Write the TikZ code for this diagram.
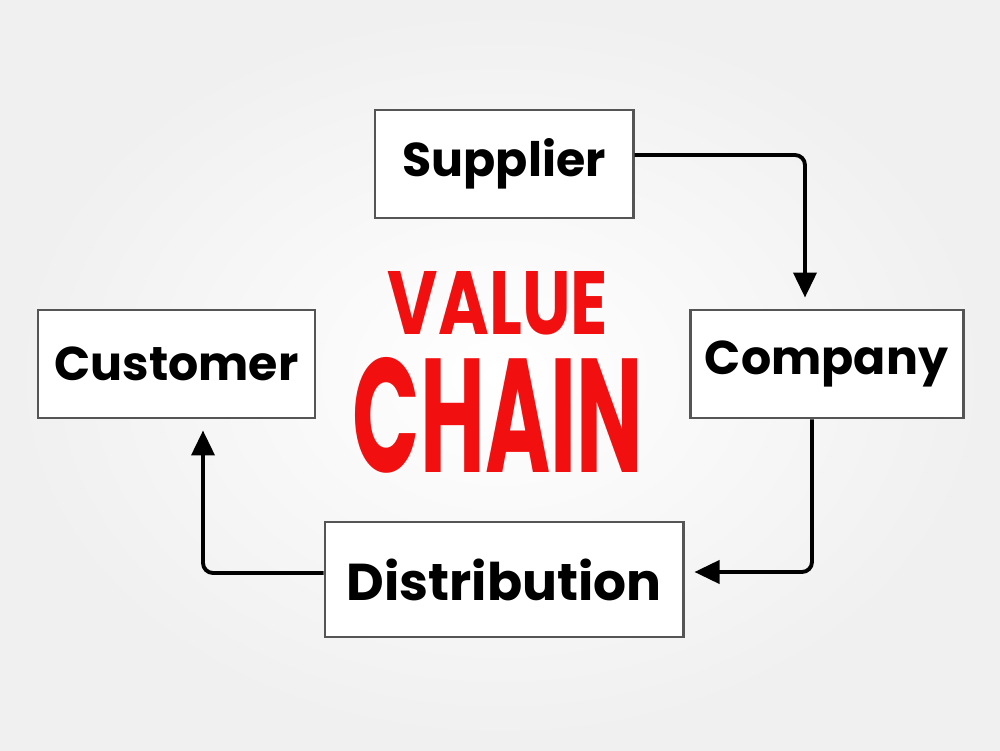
\documentclass[tikz,border=0pt]{standalone}
\usepackage{fontspec}
\setmainfont{Poppins}
\usetikzlibrary{arrows.meta,positioning}

\definecolor{boxline}{HTML}{555555}
\definecolor{valred}{HTML}{F20F0F}

\tikzset{
  box/.style={draw=boxline, line width=1.7pt, fill=white, minimum height=2.16cm,
    inner sep=0pt, font=\fontsize{27}{32}\selectfont\bfseries},
  flow/.style={line width=2.2pt, rounded corners=0.2cm,
    -{Triangle[length=0.5cm,width=0.46cm]}},
}

\begin{document}
\begin{tikzpicture}
    % background
    \shade[inner color=white, outer color=gray!12] (0,0) rectangle (20,15);
    \useasboundingbox (0,0) rectangle (20,15);

    \node[box, minimum width=5.16cm]                   (sup)   at (10.08,11.72) {Supplier}; %
    \node[box, minimum width=5.46cm]                   (comp)  at (16.53,7.72)  {Company};
    \node[box, minimum width=5.54cm]                   (cust)  at (3.53,7.72)   {Customer};
    \node[box, minimum width=7.16cm, minimum height=2.3cm,
      font=\fontsize{29.5}{34}\selectfont\bfseries]    (dist)  at (10.08,3.41)  {Distribution};

    \node[text=valred, font=\bfseries] (value) at (9.96,8.94) {\resizebox{4.4cm}{1.26cm}{VALUE}};
    \node[text=valred, font=\bfseries, below=0.2cm of value] (chain) {\resizebox{5.8cm}{2.3cm}{CHAIN}};

    \coordinate[above=0.22cm of comp.north, xshift=-0.43cm] (compin);
    \coordinate[right=0.2cm of dist.east, yshift=0.15cm]    (distin);
    \coordinate[below=0.22cm of cust.south, xshift=0.53cm]  (custin);

    \draw[flow] ([yshift=0.18cm]sup.east) -| (compin);
    \draw[flow] ([xshift=-0.29cm]comp.south) |- (distin);
    \draw[flow] ([yshift=0.13cm]dist.west) -| (custin);
\end{tikzpicture}
\end{document}
